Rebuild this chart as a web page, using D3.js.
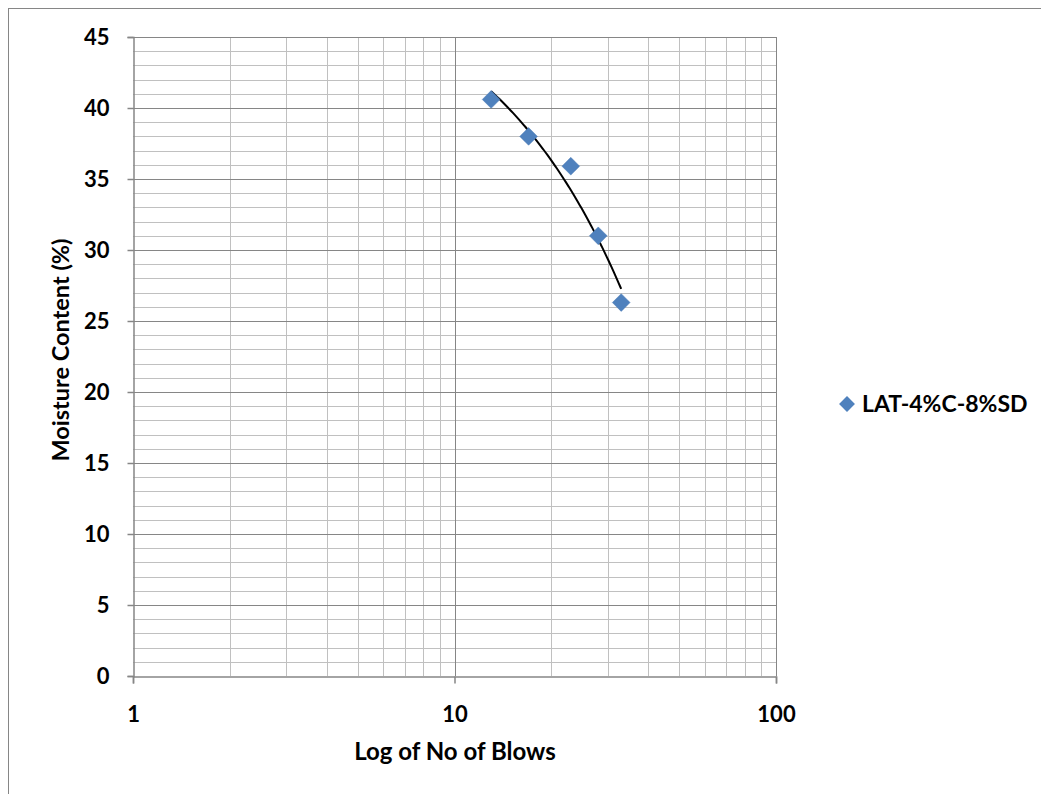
<!DOCTYPE html>
<html>
<head>
<meta charset="utf-8">
<script src="https://cdn.jsdelivr.net/npm/d3@7"></script>
<style>
  html, body { margin: 0; padding: 0; background: #fff; }
  svg { display: block; }
  text { font-family: "Lato", "Open Sans", sans-serif; font-weight: bold; fill: #000; }
</style>
</head>
<body>
<svg id="chart" width="1041" height="794"></svg>
<script>
// Liquid limit test: blows vs moisture content
const seriesName = "LAT-4%C-8%SD";
const blows = [13, 17, 23, 28, 33];
const moisture = [40.6, 38.0, 35.9, 31.0, 26.3];
const xTickValues = [1, 10, 100];
const yTickValues = [0, 5, 10, 15, 20, 25, 30, 35, 40, 45];

(function () {
const svg = d3.select("#chart");
const W = 1041, H = 794;
const plotL = 133, plotR = 776, plotT = 37, plotB = 676;
const FONT = "Lato, 'Open Sans', sans-serif";

// chart frame
svg.append("rect")
  .attr("x", 8.5).attr("y", 8.5)
  .attr("width", W).attr("height", H)
  .attr("fill", "none").attr("stroke", "#868686").attr("stroke-width", 1);

const x = d3.scaleLog().domain([1, 100]).range([plotL, plotR]);
const y = d3.scaleLinear().domain([0, 45]).range([plotB, plotT]);

const grid = svg.append("g");

// minor horizontal gridlines every 1 unit
const yMinor = d3.range(0, 46).filter(v => v % 5 !== 0);
grid.selectAll("line.ymin").data(yMinor).join("line")
  .attr("x1", plotL).attr("x2", plotR)
  .attr("y1", d => Math.round(y(d)) + 0.5).attr("y2", d => Math.round(y(d)) + 0.5)
  .attr("stroke", "#c0c0c0").attr("stroke-width", 1);

// minor vertical gridlines 2..9 in each decade
const xMinor = [];
[1, 10].forEach(dec => { for (let k = 2; k <= 9; k++) xMinor.push(dec * k); });
grid.selectAll("line.xmin").data(xMinor).join("line")
  .attr("y1", plotT).attr("y2", plotB)
  .attr("x1", d => Math.round(x(d)) + 0.5).attr("x2", d => Math.round(x(d)) + 0.5)
  .attr("stroke", "#c0c0c0").attr("stroke-width", 1);

// major gridlines
grid.selectAll("line.ymaj").data(yTickValues.filter(v => v > 0)).join("line")
  .attr("x1", plotL).attr("x2", plotR)
  .attr("y1", d => Math.round(y(d)) + 0.5).attr("y2", d => Math.round(y(d)) + 0.5)
  .attr("stroke", "#868686").attr("stroke-width", 1);
grid.selectAll("line.xmaj").data(xTickValues.slice(1)).join("line")
  .attr("y1", plotT).attr("y2", plotB)
  .attr("x1", d => Math.round(x(d)) + 0.5).attr("x2", d => Math.round(x(d)) + 0.5)
  .attr("stroke", "#868686").attr("stroke-width", 1);

// axes
const yAxis = d3.axisLeft(y).tickValues(yTickValues).tickSize(6).tickFormat(d3.format("d"));
const yg = svg.append("g").attr("transform", `translate(${plotL + 0.5},0)`).call(yAxis);
const xAxis = d3.axisBottom(x).tickValues(xTickValues).tickSize(7).tickFormat(d3.format("d"));
const xg = svg.append("g").attr("transform", `translate(0,${plotB + 0.5})`).call(xAxis);

[yg, xg].forEach(g => {
  g.select(".domain").attr("stroke", "#868686").attr("stroke-width", 1.5);
  g.selectAll(".tick line").attr("stroke", "#868686").attr("stroke-width", 1.5);
  g.selectAll(".tick text")
    .style("font-family", FONT)
    .style("font-weight", "bold").style("font-size", "22px").attr("fill", "#000");
});
yg.selectAll(".tick text").attr("x", -24).attr("dy", "0.35em");
xg.selectAll(".tick text").attr("y", 38).attr("dy", "0.35em");

// linear trendline fitted on the points
const n = blows.length;
const mx = d3.mean(blows), my = d3.mean(moisture);
const sxy = d3.sum(blows, (b, i) => (b - mx) * (moisture[i] - my));
const sxx = d3.sum(blows, b => (b - mx) * (b - mx));
const slope = sxy / sxx, intercept = my - slope * mx;
const xs = d3.range(0, 101).map(i => blows[0] + (blows[n - 1] - blows[0]) * i / 100);
const line = d3.line().x(d => x(d)).y(d => y(intercept + slope * d));
svg.append("path").datum(xs)
  .attr("d", line).attr("fill", "none").attr("stroke", "#000").attr("stroke-width", 2);

// data markers
const diamond = d3.symbol().type(d3.symbolDiamond2).size(200);
svg.selectAll("path.pt").data(blows).join("path")
  .attr("transform", (d, i) => `translate(${x(d)},${y(moisture[i])})`)
  .attr("d", diamond).attr("fill", "#4f81bd").attr("stroke", "#4a7ab5").attr("stroke-width", 0.5);

// legend
svg.append("path")
  .attr("transform", "translate(847,404)")
  .attr("d", d3.symbol().type(d3.symbolDiamond2).size(160))
  .attr("fill", "#4f81bd");
svg.append("text").attr("x", 862).attr("y", 404).attr("dy", "0.35em")
  .style("font-size", "23px").text(seriesName);

// axis titles
svg.append("text").attr("x", 455).attr("y", 752).attr("dy", "0.35em")
  .attr("text-anchor", "middle").style("font-size", "24px").text("Log of No of Blows");
svg.append("text")
  .attr("transform", "translate(61,350) rotate(-90)")
  .attr("text-anchor", "middle").attr("dy", "0.35em")
  .style("font-size", "23.5px").text("Moisture Content (%)");
})();
</script>
</body>
</html>
